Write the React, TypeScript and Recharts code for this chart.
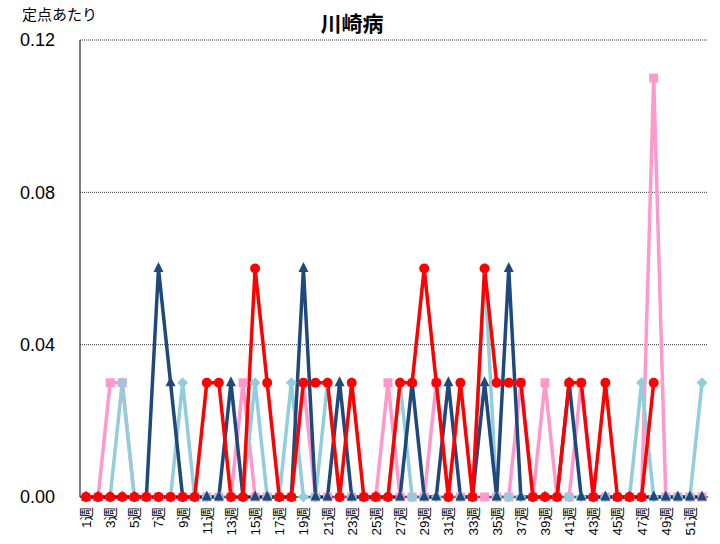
import React from "react";
import {
  LineChart,
  Line,
  XAxis,
  YAxis,
  CartesianGrid,
} from "recharts";

// week labels 1週 … 52週
const WEEKS = Array.from({ length: 52 }, (_, i) => `${i + 1}週`);

const Y_TICKS = [0, 0.04, 0.08, 0.12];

// three years ago (pink squares)
const PINK = [
  0, 0, 0.03, 0.03, 0, 0, 0, 0, 0, 0,
  0, 0, 0, 0.03, 0, 0, 0, 0, 0.03, 0,
  0, 0, 0, 0, 0, 0.03, 0, 0, 0, 0.03,
  0, 0, 0, 0, 0, 0, 0.03, 0, 0.03, 0,
  0, 0.03, 0, 0, 0, 0, 0, 0.11, 0, 0,
  0, 0,
];

// two years ago (light blue diamonds)
const LIGHT_BLUE = [
  0, 0, 0, 0.03, 0, 0, 0, 0, 0.03, 0,
  0, 0, 0, 0, 0.03, 0, 0, 0.03, 0, 0,
  0.03, 0, 0, 0, 0, 0, 0.03, 0, 0, 0,
  0, 0, 0, 0.06, 0, 0, 0, 0, 0, 0,
  0, 0, 0, 0, 0, 0, 0.03, 0, 0, 0,
  0, 0.03,
];

// last year (navy triangles)
const NAVY = [
  0, 0, 0, 0, 0, 0, 0.06, 0.03, 0, 0,
  0, 0, 0.03, 0, 0, 0, 0, 0, 0.06, 0,
  0, 0.03, 0, 0, 0, 0, 0, 0.03, 0, 0,
  0.03, 0, 0, 0.03, 0, 0.06, 0, 0, 0, 0,
  0.03, 0, 0, 0, 0, 0, 0, 0, 0, 0,
  0, 0,
];

// this year (red circles), up to week 48
const RED = [
  0, 0, 0, 0, 0, 0, 0, 0, 0, 0,
  0.03, 0.03, 0, 0, 0.06, 0.03, 0, 0, 0.03, 0.03,
  0.03, 0, 0.03, 0, 0, 0, 0.03, 0.03, 0.06, 0.03,
  0, 0.03, 0, 0.06, 0.03, 0.03, 0.03, 0, 0, 0,
  0.03, 0.03, 0, 0.03, 0, 0, 0, 0.03, null, null,
  null, null,
];

const data = WEEKS.map((week, i) => ({
  week,
  pink: PINK[i],
  lightBlue: LIGHT_BLUE[i],
  navy: NAVY[i],
  red: RED[i],
}));

const FONT = '"Liberation Sans", Arial, "Noto Sans CJK JP", sans-serif';
const JP_FONT = '"Noto Sans CJK JP", sans-serif';

const PINK_C = "#ff99cc";
const LB_C = "#92cddc";
const NAVY_C = "#1f497d";
const RED_C = "#ff0000";

function SquareDot(props: any) {
  const { cx, cy, index } = props;
  if (cx == null || cy == null) return <g key={`s-${index}`} />;
  return <rect key={`s-${index}`} x={cx - 4.5} y={cy - 4.5} width={9} height={9} fill={PINK_C} />;
}

function DiamondDot(props: any) {
  const { cx, cy, index } = props;
  if (cx == null || cy == null) return <g key={`d-${index}`} />;
  return (
    <path
      key={`d-${index}`}
      d={`M${cx},${cy - 5.5}L${cx + 5.5},${cy}L${cx},${cy + 5.5}L${cx - 5.5},${cy}Z`}
      fill={LB_C}
    />
  );
}

function TriangleDot(props: any) {
  const { cx, cy, index } = props;
  if (cx == null || cy == null) return <g key={`t-${index}`} />;
  return (
    <path
      key={`t-${index}`}
      d={`M${cx},${cy - 6.5}L${cx + 5},${cy + 3.5}L${cx - 5},${cy + 3.5}Z`}
      fill={NAVY_C}
    />
  );
}

function CircleDot(props: any) {
  const { cx, cy, index } = props;
  if (cx == null || cy == null) return <g key={`c-${index}`} />;
  return <circle key={`c-${index}`} cx={cx} cy={cy} r={5} fill={RED_C} />;
}

function WeekTick(props: any) {
  const { x, y, payload } = props;
  return (
    <g transform={`translate(${x},${y})`}>
      <text
        transform="rotate(-90)"
        x={-2}
        y={0}
        dy={5}
        textAnchor="end"
        fontSize={13.5}
        fontFamily={FONT}
        fill="#000"
      >
        {payload.value}
      </text>
    </g>
  );
}

export default function App() {
  return (
    <div
      style={{
        position: "absolute",
        left: 0,
        top: 0,
        width: 720,
        height: 544,
        background: "#fff",
      }}
    >
      <div
        style={{
          position: "absolute",
          left: 22,
          top: 3,
          fontSize: 15,
          fontFamily: JP_FONT,
          color: "#000",
        }}
      >
        定点あたり
      </div>
      <div
        style={{
          position: "absolute",
          left: 252,
          width: 200,
          top: 7,
          textAlign: "center",
          fontSize: 21,
          fontWeight: "bold",
          fontFamily: JP_FONT,
          color: "#000",
        }}
      >
        川崎病
      </div>
      <LineChart
        width={720}
        height={544}
        data={data}
        margin={{ top: 40, right: 12, bottom: 0, left: 0 }}
      >
        <CartesianGrid
          vertical={false}
          stroke="#000"
          strokeDasharray="1 1"
          strokeWidth={0.8}
        />
        <XAxis
          dataKey="week"
          interval={1}
          height={47}
          padding={{ left: 6, right: 6 }}
          tickLine={false}
          axisLine={{ stroke: "#000", strokeWidth: 1 }}
          tick={<WeekTick />}
        />
        <YAxis
          domain={[0, 0.12]}
          ticks={Y_TICKS}
          width={80}
          tickSize={0}
          tickMargin={25}
          tickLine={false}
          axisLine={{ stroke: "#000", strokeWidth: 1 }}
          tickFormatter={(v: number) => v.toFixed(2)}
          tick={{ fontSize: 18, fill: "#000", fontFamily: FONT }}
        />
        <YAxis
          yAxisId="right"
          orientation="right"
          domain={[0, 0.12]}
          width={0}
          tick={false}
          tickLine={false}
          axisLine={{ stroke: "#999", strokeWidth: 1 }}
        />
        <Line
          type="linear"
          dataKey="pink"
          stroke={PINK_C}
          strokeWidth={3.5}
          dot={SquareDot}
          activeDot={false}
          isAnimationActive={false}
        />
        <Line
          type="linear"
          dataKey="lightBlue"
          stroke={LB_C}
          strokeWidth={3.5}
          dot={DiamondDot}
          activeDot={false}
          isAnimationActive={false}
        />
        <Line
          type="linear"
          dataKey="navy"
          stroke={NAVY_C}
          strokeWidth={3.5}
          dot={TriangleDot}
          activeDot={false}
          isAnimationActive={false}
        />
        <Line
          type="linear"
          dataKey="red"
          stroke={RED_C}
          strokeWidth={3.5}
          dot={CircleDot}
          activeDot={false}
          isAnimationActive={false}
        />
      </LineChart>
    </div>
  );
}
